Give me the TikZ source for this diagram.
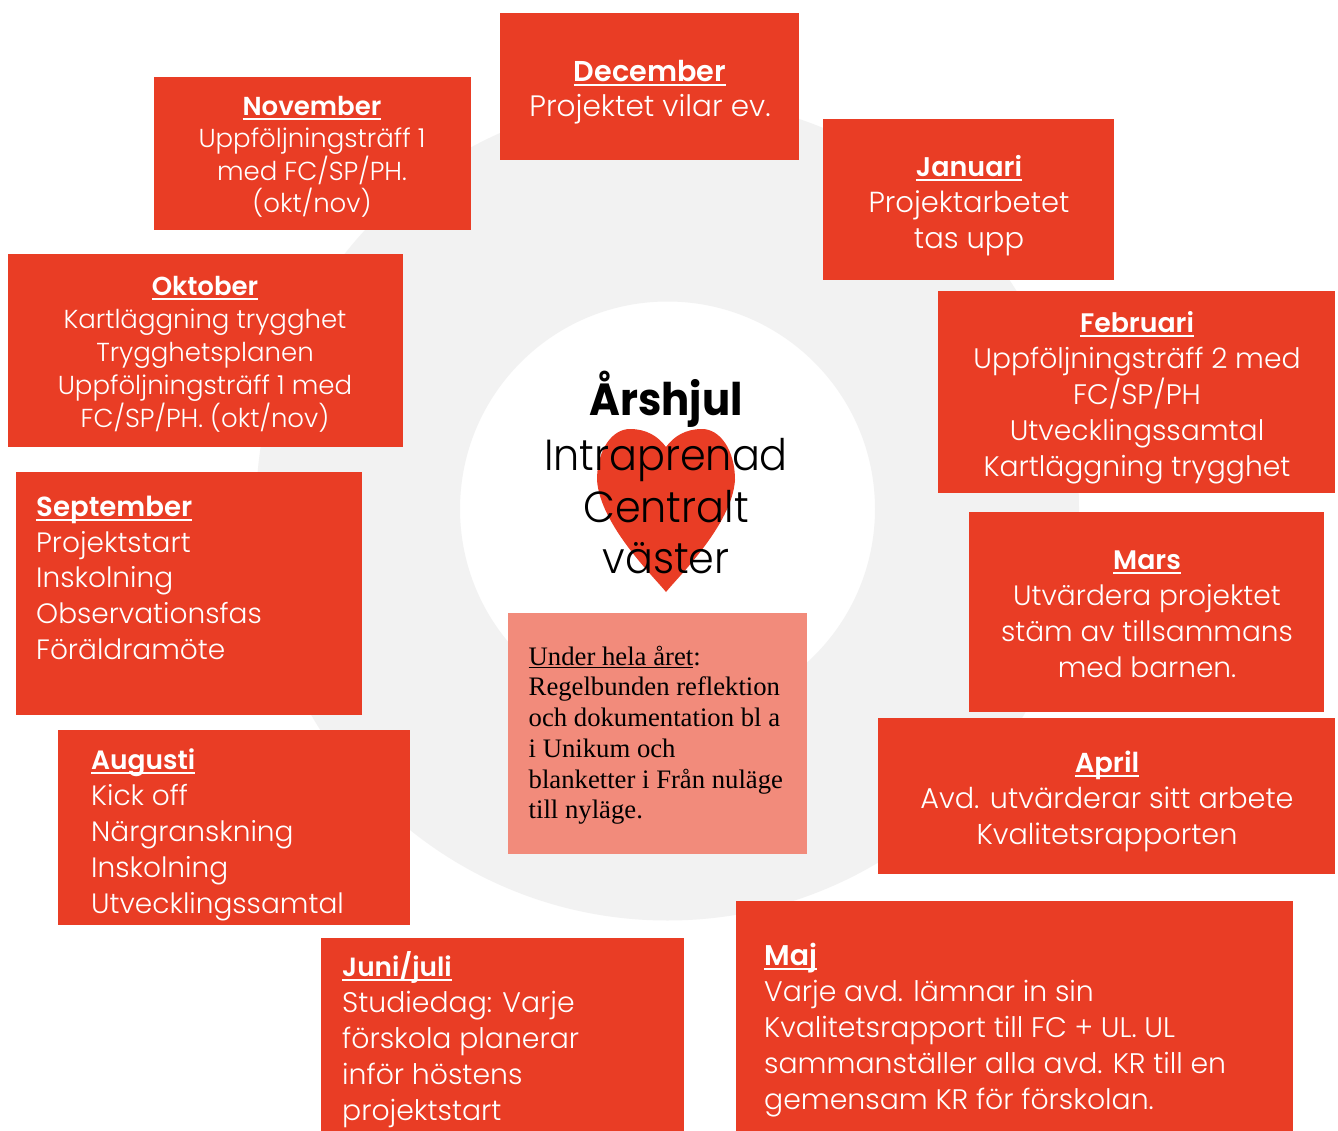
\documentclass[tikz,border=0pt]{standalone}
\usepackage{fontspec}
\setmainfont{Liberation Serif}
\newfontfamily\bodyf{Poppins Light}
\newfontfamily\headf{Poppins SemiBold}
\newfontfamily\midf{Poppins Light}[FakeStretch=0.95]
\newfontfamily\midb{Poppins Bold}[FakeStretch=0.93]
\definecolor{mred}{HTML}{E93D25}
\definecolor{mpink}{HTML}{F28B7B}
\definecolor{mgray}{HTML}{F2F2F2}
\newcommand\mstrut{\rule{0pt}{30pt}}
\newcommand\mhead[2][27]{\setbox0\hbox{\headf\fontsize{#1}{#1}\selectfont #2}\mstrut\rlap{\rule[-4.5pt]{\wd0}{1.8pt}}\box0}
\newcommand\bsz[2]{\fontsize{#1}{#2}\selectfont\bodyf}
\tikzset{
  redbox/.style={fill=mred,draw=none,inner sep=0pt,anchor=north west},
  ctxt/.style={inner sep=0pt,text=white,anchor=north,align=center},
  ltxt/.style={inner sep=0pt,text=white,anchor=north west,align=left},
}
\begin{document}
\begin{tikzpicture}[x=1pt,y=-1pt]
\useasboundingbox (0,0) rectangle (1338,1131);
\fill[white] (0,0) rectangle (1338,1131);
\fill[mgray,even odd rule] (667.5,509) circle[radius=411.5pt] (667.5,509) circle[radius=207.5pt];
% heart
\fill[mred] (666,592) .. controls (655,578) and (600,525) .. (597,480)
  .. controls (597,450) and (612,429) .. (630,429)
  .. controls (646,429) and (658,436) .. (666,447)
  .. controls (674,436) and (686,429) .. (702,429)
  .. controls (720,429) and (735,450) .. (735,480)
  .. controls (732,525) and (677,578) .. (666,592) -- cycle;
\node[inner sep=0pt,anchor=north,align=center,text=black,font=\fontsize{43.5}{52}\selectfont\midf] (center) at (666,385)
 {{\midb\fontsize{45}{52}\selectfont\rule{0pt}{30pt}\smash{Årshjul}}\\[3pt]Intraprenad\\Centralt\\[-1pt]väster};
% boxes
\node[redbox,minimum width=299pt,minimum height=147pt] (bdec) at (500,13) {};
\node[redbox,minimum width=291pt,minimum height=161pt] (bjan) at (823,119) {};
\node[redbox,minimum width=397pt,minimum height=202pt] (bfeb) at (938,291) {};
\node[redbox,minimum width=355pt,minimum height=200pt] (bmar) at (969,512) {};
\node[redbox,minimum width=457pt,minimum height=156pt] (bapr) at (878,718) {};
\node[redbox,minimum width=557pt,minimum height=230pt] (bmaj) at (736,901) {};
\node[redbox,minimum width=363pt,minimum height=193pt] (bjun) at (321,938) {};
\node[redbox,minimum width=352pt,minimum height=195pt] (baug) at (58,730) {};
\node[redbox,minimum width=346pt,minimum height=243pt] (bsep) at (16,472) {};
\node[redbox,minimum width=395pt,minimum height=193pt] (bokt) at (8,254) {};
\node[redbox,minimum width=317pt,minimum height=153pt] (bnov) at (154,77) {};
\node[inner sep=0pt,anchor=north west,fill=mpink,minimum width=299pt,minimum height=241pt] (bund) at (508,613) {};
% texts
\node[ctxt,font=\bsz{29.5}{35}] (tdec) at (650,51) {\mhead[28.7]{December}\\Projektet vilar ev.};
\node[ctxt,font=\bsz{29}{36}] (tjan) at (969,146) {\mhead[27]{Januari}\\Projektarbetet\\tas upp};
\node[ctxt,font=\bsz{28.2}{36}] (tfeb) at (1137,302) {\mhead[26.8]{Februari}\\Uppföljningsträff 2 med\\FC/SP/PH\\Utvecklingssamtal\\Kartläggning trygghet};
\node[ctxt,font=\bsz{28}{36}] (tmar) at (1147,539) {\mhead[26.8]{Mars}\\Utvärdera projektet\\stäm av tillsammans\\med barnen.};
\node[ctxt,font=\bsz{28.7}{36}] (tapr) at (1107,742) {\mhead[27.4]{April}\\Avd. utvärderar sitt arbete\\Kvalitetsrapporten};
\node[ltxt,font=\bsz{28.3}{36}] (tmaj) at (764,935) {\mhead[28.5]{Maj}\\Varje avd. lämnar in sin\\Kvalitetsrapport till FC + UL. UL\\sammanställer alla avd. KR till en\\gemensam KR för förskolan.};
\node[ltxt,font=\bsz{28.3}{36}] (tjun) at (342,946) {\mhead[26.4]{Juni/juli}\\Studiedag: Varje\\förskola planerar\\inför höstens\\projektstart};
\node[ltxt,font=\bsz{28}{36}] (taug) at (91,739) {\mhead[26.5]{Augusti}\\Kick off\\Närgranskning\\Inskolning\\Utvecklingssamtal};
\node[ltxt,font=\bsz{28}{35.8}] (tsep) at (36,486) {\mhead[27.6]{September}\\Projektstart\\Inskolning\\Observationsfas\\Föräldramöte};
\node[ctxt,font=\bsz{26}{33}] (tokt) at (205,265.5) {\mhead[26]{Oktober}\\Kartläggning trygghet\\Trygghetsplanen\\Uppföljningsträff 1 med\\FC/SP/PH. (okt/nov)};
\node[ctxt,font=\bsz{26}{32.5}] (tnov) at (312,85) {\mhead[26]{November}\\Uppföljningsträff 1\\med FC/SP/PH.\\(okt/nov)};
\node[inner sep=0pt,anchor=north west,align=left,text=black,font=\fontsize{26.7}{30.7}\selectfont] (tund) at (528.5,635)
 {\setbox0\hbox{Under hela året}\rule{0pt}{30pt}\rlap{\rule[-3pt]{\wd0}{1.5pt}}\box0:\\Regelbunden reflektion\\och dokumentation bl a\\i Unikum och\\blanketter i Från nuläge\\till nyläge.};
\end{tikzpicture}
\end{document}
